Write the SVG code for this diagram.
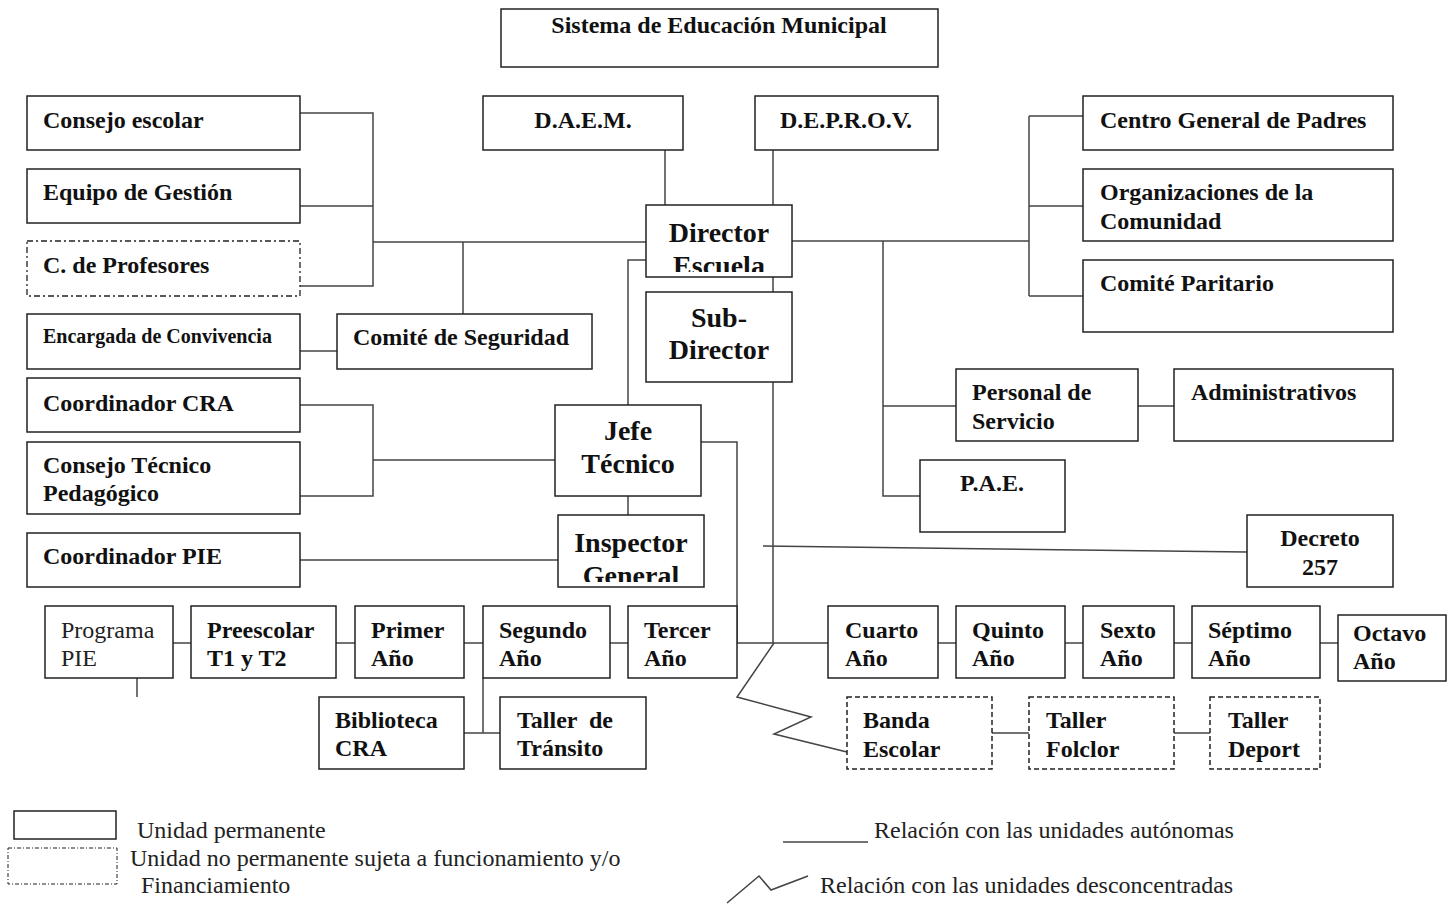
<svg xmlns="http://www.w3.org/2000/svg" width="1448" height="908" viewBox="0 0 1448 908">
<style>
.box{fill:#fff;stroke:#222;stroke-width:1.5}
.dash{fill:#fff;stroke:#222;stroke-width:1.5;stroke-dasharray:5 3}
.dd{fill:#fff;stroke:#222;stroke-width:1.3;stroke-dasharray:6 3 2 3}
.t{font-family:"Liberation Serif","Times New Roman",serif;font-size:24px;font-weight:bold;fill:#111}
.b{font-size:28px}
.s{font-size:20px}
.r{font-family:"Liberation Serif","Times New Roman",serif;font-size:24px;fill:#222}
.c{text-anchor:middle}
.ln{fill:none;stroke:#444;stroke-width:1.5}
</style>
<defs>
<clipPath id="clipDir"><rect x="646" y="205" width="146" height="67"/></clipPath>
<clipPath id="clipIns"><rect x="558" y="515" width="146" height="67"/></clipPath>
</defs>
<g id="connectors" class="ln">
<path d="M300 113H373V286H300M300 206H373M373 242H646M463 242V314M300 351H337"/>
<path d="M665 150V205M773 150V205M773 277V292"/>
<path d="M792 241H1029M1029 116V296M1029 116H1083M1029 206H1083M1029 296H1083"/>
<path d="M883 241V496H920M883 406H956M1138 406H1174"/>
<path d="M646 260H628V405M628 496V515M701 442H737V643"/>
<path d="M300 405H373V496H300M373 460H555M300 560H558"/>
<path d="M773 382V643"/>
<path d="M763 546L1247 552"/>
<path d="M173 643H191M336 643H355M464 643H483M610 643H628M737 643H828M938 643H956M1065 643H1083M1174 643H1192M1320 643H1338"/>
<path d="M137 678V697M483 678V733M464 733H500"/>
<path d="M774 643L737 697L811 717L774 734L847 752"/>
<path d="M992 733H1029M1174 733H1210"/>
</g>
<g id="sistema"><rect class="box" x="501" y="9" width="437" height="58"/><text class="t c" x="719" y="33">Sistema de Educación Municipal</text></g>
<g id="daem"><rect class="box" x="483" y="96" width="200" height="54"/><text class="t c" x="583" y="128">D.A.E.M.</text></g>
<g id="deprov"><rect class="box" x="755" y="96" width="183" height="54"/><text class="t c" x="846" y="128">D.E.P.R.O.V.</text></g>
<g id="consejo-escolar"><rect class="box" x="27" y="96" width="273" height="54"/><text class="t" x="43" y="128">Consejo escolar</text></g>
<g id="equipo-gestion"><rect class="box" x="27" y="169" width="273" height="54"/><text class="t" x="43" y="200">Equipo de Gestión</text></g>
<g id="c-profesores"><rect class="dd" x="27" y="241" width="273" height="55"/><text class="t" x="43" y="273">C. de Profesores</text></g>
<g id="encargada"><rect class="box" x="27" y="314" width="273" height="55"/><text class="t s" x="43" y="343">Encargada de Convivencia</text></g>
<g id="comite-seguridad"><rect class="box" x="337" y="314" width="255" height="55"/><text class="t" x="353" y="345">Comité de Seguridad</text></g>
<g id="coord-cra"><rect class="box" x="27" y="378" width="273" height="54"/><text class="t" x="43" y="411">Coordinador CRA</text></g>
<g id="consejo-tecnico"><rect class="box" x="27" y="442" width="273" height="72"/><text class="t" x="43" y="473">Consejo Técnico</text><text class="t" x="43" y="501">Pedagógico</text></g>
<g id="coord-pie"><rect class="box" x="27" y="533" width="273" height="54"/><text class="t" x="43" y="564">Coordinador PIE</text></g>
<g id="director"><rect class="box" x="646" y="205" width="146" height="72"/><g clip-path="url(#clipDir)"><text class="t b c" x="719" y="242">Director</text><text class="t b c" x="719" y="275">Escuela</text></g></g>
<g id="subdirector"><rect class="box" x="646" y="292" width="146" height="90"/><text class="t b c" x="719" y="327">Sub-</text><text class="t b c" x="719" y="359">Director</text></g>
<g id="jefe-tecnico"><rect class="box" x="555" y="405" width="146" height="91"/><text class="t b c" x="628" y="440">Jefe</text><text class="t b c" x="628" y="473">Técnico</text></g>
<g id="inspector"><rect class="box" x="558" y="515" width="146" height="72"/><g clip-path="url(#clipIns)"><text class="t b c" x="631" y="552">Inspector</text><text class="t b c" x="631" y="585">General</text></g></g>
<g id="centro-padres"><rect class="box" x="1083" y="96" width="310" height="54"/><text class="t" x="1100" y="128">Centro General de Padres</text></g>
<g id="organizaciones"><rect class="box" x="1083" y="169" width="310" height="72"/><text class="t" x="1100" y="200">Organizaciones de la</text><text class="t" x="1100" y="229">Comunidad</text></g>
<g id="comite-paritario"><rect class="box" x="1083" y="260" width="310" height="72"/><text class="t" x="1100" y="291">Comité Paritario</text></g>
<g id="personal-servicio"><rect class="box" x="956" y="369" width="182" height="72"/><text class="t" x="972" y="400">Personal de</text><text class="t" x="972" y="429">Servicio</text></g>
<g id="administrativos"><rect class="box" x="1174" y="369" width="219" height="72"/><text class="t" x="1191" y="400">Administrativos</text></g>
<g id="pae"><rect class="box" x="920" y="460" width="145" height="72"/><text class="t c" x="992" y="491">P.A.E.</text></g>
<g id="decreto"><rect class="box" x="1247" y="515" width="146" height="72"/><text class="t c" x="1320" y="546">Decreto</text><text class="t c" x="1320" y="575">257</text></g>
<g id="programa-pie"><rect class="box" x="45" y="606" width="128" height="72"/><text class="r" x="61" y="638">Programa</text><text class="r" x="61" y="666">PIE</text></g>
<g id="preescolar"><rect class="box" x="191" y="606" width="145" height="72"/><text class="t" x="207" y="638">Preescolar</text><text class="t" x="207" y="666">T1 y T2</text></g>
<g id="primer"><rect class="box" x="355" y="606" width="109" height="72"/><text class="t" x="371" y="638">Primer</text><text class="t" x="371" y="666">Año</text></g>
<g id="segundo"><rect class="box" x="483" y="606" width="127" height="72"/><text class="t" x="499" y="638">Segundo</text><text class="t" x="499" y="666">Año</text></g>
<g id="tercer"><rect class="box" x="628" y="606" width="109" height="72"/><text class="t" x="644" y="638">Tercer</text><text class="t" x="644" y="666">Año</text></g>
<g id="cuarto"><rect class="box" x="828" y="606" width="110" height="72"/><text class="t" x="845" y="638">Cuarto</text><text class="t" x="845" y="666">Año</text></g>
<g id="quinto"><rect class="box" x="956" y="606" width="109" height="72"/><text class="t" x="972" y="638">Quinto</text><text class="t" x="972" y="666">Año</text></g>
<g id="sexto"><rect class="box" x="1083" y="606" width="91" height="72"/><text class="t" x="1100" y="638">Sexto</text><text class="t" x="1100" y="666">Año</text></g>
<g id="septimo"><rect class="box" x="1192" y="606" width="128" height="72"/><text class="t" x="1208" y="638">Séptimo</text><text class="t" x="1208" y="666">Año</text></g>
<g id="octavo"><rect class="box" x="1338" y="615" width="108" height="66"/><text class="t" x="1353" y="641">Octavo</text><text class="t" x="1353" y="669">Año</text></g>
<g id="biblioteca"><rect class="box" x="319" y="697" width="145" height="72"/><text class="t" x="335" y="728">Biblioteca</text><text class="t" x="335" y="756">CRA</text></g>
<g id="taller-transito"><rect class="box" x="500" y="697" width="146" height="72"/><text class="t" x="517" y="728" xml:space="preserve">Taller  de</text><text class="t" x="517" y="756">Tránsito</text></g>
<g id="banda"><rect class="dash" x="847" y="697" width="145" height="72"/><text class="t" x="863" y="728">Banda</text><text class="t" x="863" y="757">Escolar</text></g>
<g id="folclor"><rect class="dash" x="1029" y="697" width="145" height="72"/><text class="t" x="1046" y="728">Taller</text><text class="t" x="1046" y="757">Folclor</text></g>
<g id="deport"><rect class="dash" x="1210" y="697" width="110" height="72"/><text class="t" x="1228" y="728">Taller</text><text class="t" x="1228" y="757">Deport</text></g>
<g id="legend">
<rect class="box" x="14" y="811" width="102" height="28"/>
<text class="r" x="137" y="838">Unidad permanente</text>
<rect class="dd" x="8" y="848" width="109" height="36" style="stroke-dasharray:4 2 1 2;stroke-width:1"/>
<text class="r" x="130" y="866">Unidad no permanente sujeta a funcionamiento y/o</text>
<text class="r" x="141" y="893">Financiamiento</text>
<path class="ln" d="M783 842H868"/>
<text class="r" x="874" y="838">Relación con las unidades autónomas</text>
<path class="ln" d="M727 903L759 876L771 890L808 876"/>
<text class="r" x="820" y="893">Relación con las unidades desconcentradas</text>
</g>
</svg>
